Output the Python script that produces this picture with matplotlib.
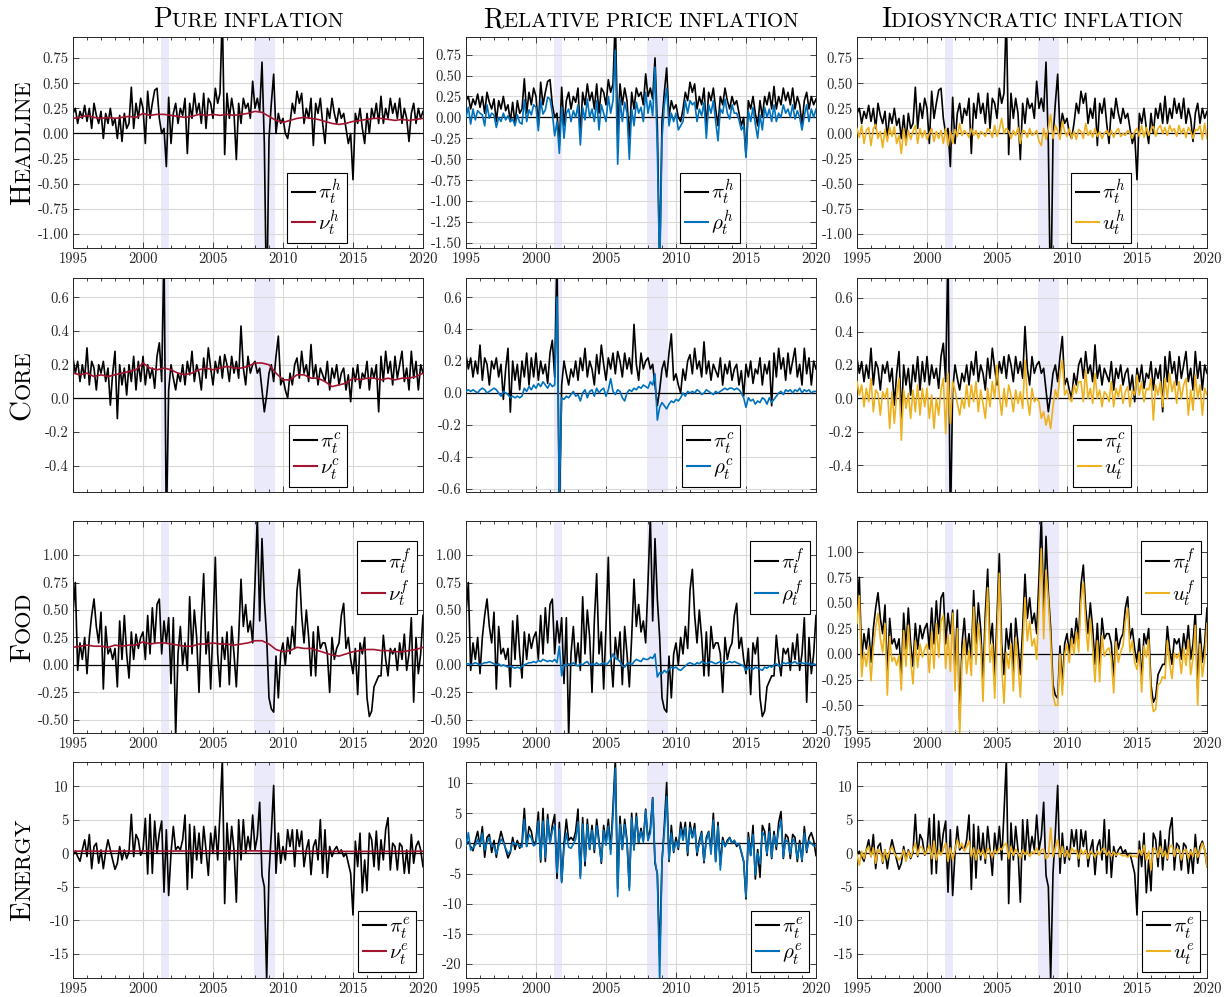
import numpy as np
import matplotlib
matplotlib.use('Agg')
import matplotlib.pyplot as plt

plt.rcParams.update({
    'font.family': 'cmr10',
    'mathtext.fontset': 'cm',
    'axes.unicode_minus': False,
    'axes.formatter.use_mathtext': True,
})

# ---- data (bimonthly 1995-2020) ----
pi_h = [
    0.20, 0.25, 0.10, 0.22, 0.15, 0.28,
    0.12, 0.25, 0.05, 0.30, 0.18, 0.10,
    0.22, -0.05, 0.20, 0.10, 0.25, 0.08,
    0.15, -0.05, 0.18, -0.08, 0.20, 0.05,
    0.10, 0.46, 0.05, 0.30, 0.15, 0.35,
    0.25, -0.10, 0.42, 0.15, 0.30, 0.43,
    0.45, 0.15, 0.00, 0.05, -0.33, 0.36,
    -0.10, 0.20, 0.30, 0.10, 0.25, 0.18,
    0.35, -0.20, 0.30, 0.15, 0.40, 0.20,
    0.30, 0.10, 0.40, 0.05, 0.35, 0.30,
    0.15, 0.45, 0.30, 0.40, 1.20, -0.21,
    0.40, 0.15, 0.35, 0.20, -0.26, 0.30,
    0.10, 0.35, 0.25, 0.30, 0.15, 0.52,
    0.25, 0.35, 0.22, 0.71, -0.10, -1.80,
    -0.05, 0.30, 0.59, 0.00, 0.20, 0.10,
    0.15, 0.00, -0.05, 0.10, 0.30, 0.20,
    0.42, 0.30, 0.40, 0.10, 0.25, 0.15,
    0.35, -0.12, 0.30, 0.20, 0.35, 0.10,
    -0.10, 0.25, 0.15, 0.35, 0.20, 0.10,
    0.25, 0.15, 0.20, 0.05, -0.10, 0.00,
    -0.46, 0.20, 0.10, 0.25, 0.05, -0.10,
    0.20, 0.00, 0.25, 0.15, 0.30, 0.10,
    0.37, 0.10, 0.25, 0.15, 0.35, 0.20,
    0.30, 0.15, 0.35, 0.10, 0.25, 0.15,
    -0.08, 0.20, 0.30, 0.10, 0.25, 0.15,
    0.22]
rho_h = [
    0.00, 0.12, -0.08, 0.10, -0.03, 0.08,
    0.05, 0.03, -0.10, 0.15, -0.01, 0.05,
    0.03, -0.12, 0.00, -0.05, 0.05, -0.03,
    0.02, -0.05, -0.02, -0.10, 0.03, -0.06,
    -0.08, 0.21, -0.05, 0.09, 0.03, 0.15,
    0.12, -0.16, 0.20, 0.04, 0.09, 0.24,
    0.22, 0.05, -0.22, -0.05, -0.43, 0.12,
    -0.25, 0.05, 0.10, -0.05, 0.08, 0.00,
    0.15, -0.33, 0.12, -0.03, 0.22, 0.00,
    0.10, -0.05, 0.20, -0.15, 0.15, 0.05,
    -0.05, 0.25, 0.05, 0.20, 0.80, -0.56,
    0.22, -0.05, 0.18, 0.05, -0.50, 0.10,
    -0.10, 0.18, 0.05, 0.12, -0.05, 0.30,
    0.05, 0.20, 0.02, 0.60, -0.37, -1.85,
    -0.25, 0.15, 0.35, -0.10, 0.05, -0.05,
    0.05, -0.15, -0.10, -0.05, 0.20, 0.05,
    0.20, 0.15, 0.18, -0.05, 0.10, 0.02,
    0.18, -0.25, 0.15, 0.05, 0.20, -0.05,
    -0.28, 0.10, 0.05, 0.22, 0.05, -0.02,
    0.15, 0.05, 0.05, -0.03, -0.15, -0.10,
    -0.48, 0.08, -0.05, 0.12, -0.08, -0.25,
    0.03, -0.15, 0.12, 0.00, 0.10, -0.05,
    0.15, -0.05, 0.05, 0.00, 0.15, 0.05,
    0.10, 0.00, 0.15, -0.02, 0.08, 0.00,
    -0.15, 0.02, 0.15, -0.05, 0.10, 0.00,
    0.10]
u_h = [
    0.05, -0.04, 0.08, -0.10, 0.03, 0.06,
    -0.12, 0.05, 0.09, -0.05, 0.02, -0.14,
    0.04, -0.08, 0.06, -0.03, 0.07, -0.10,
    -0.02, -0.20, 0.05, -0.12, 0.03, -0.06,
    0.02, 0.08, -0.10, 0.05, -0.04, 0.03,
    -0.06, 0.00, 0.05, -0.08, 0.02, -0.05,
    0.03, -0.10, 0.05, -0.12, 0.02, -0.10,
    0.04, -0.03, 0.10, -0.02, 0.03, 0.00,
    -0.04, 0.05, -0.02, 0.03, -0.05, 0.02,
    0.00, -0.03, 0.05, 0.02, -0.04, 0.08,
    -0.03, 0.04, 0.15, 0.00, 0.05, 0.02,
    -0.05, 0.03, -0.02, 0.06, -0.10, 0.03,
    0.02, -0.04, 0.05, -0.02, 0.00, 0.03,
    -0.08, -0.12, 0.05, -0.06, 0.05, 0.19,
    -0.05, 0.08, 0.03, -0.06, 0.12, 0.02,
    -0.03, 0.05, -0.05, 0.02, -0.06, 0.04,
    0.02, -0.05, 0.10, -0.02, 0.03, -0.04,
    0.05, -0.03, 0.02, -0.05, 0.00, 0.03,
    -0.02, 0.03, -0.04, 0.02, 0.05, -0.03,
    0.00, -0.02, 0.03, 0.00, -0.05, 0.02,
    0.05, -0.03, 0.08, -0.04, 0.06, -0.02,
    0.04, 0.07, -0.03, 0.05, 0.08, 0.00,
    0.06, -0.02, 0.08, 0.02, 0.05, -0.03,
    0.08, 0.00, 0.05, -0.04, 0.06, 0.02,
    -0.05, 0.04, 0.03, 0.08, -0.06, 0.10,
    -0.05]

pi_c = [
    0.24, 0.15, 0.22, 0.10, 0.20, 0.12,
    0.30, 0.08, 0.22, 0.18, 0.05, 0.20,
    0.15, 0.22, 0.10, 0.18, -0.04, 0.15,
    0.28, -0.12, 0.20, 0.08, 0.18, 0.02,
    0.20, 0.10, 0.25, 0.05, 0.22, 0.10,
    0.25, 0.08, 0.20, 0.12, 0.18, 0.06,
    0.25, 0.33, 0.10, 0.90, -0.80, 0.05,
    0.20, 0.12, 0.05, 0.15, 0.10, 0.20,
    0.08, 0.22, 0.14, 0.28, 0.10, 0.20,
    0.15, 0.05, 0.24, 0.12, 0.30, 0.18,
    0.08, 0.22, 0.15, 0.25, 0.12, 0.26,
    0.20, 0.10, 0.25, 0.15, 0.22, 0.12,
    0.43, 0.18, 0.08, 0.25, 0.15, 0.20,
    0.22, 0.15, 0.18, 0.05, -0.08, 0.02,
    0.15, 0.20, 0.10, 0.25, 0.37, 0.08,
    0.12, 0.05, 0.00, 0.15, 0.08, 0.20,
    0.24, 0.12, 0.28, 0.15, 0.20, 0.10,
    0.32, 0.12, 0.20, 0.08, 0.18, 0.14,
    0.10, 0.22, 0.05, 0.18, 0.12, 0.20,
    0.08, 0.15, 0.18, 0.05, 0.14, -0.02,
    0.18, 0.10, 0.20, 0.06, 0.15, 0.12,
    0.22, 0.05, 0.18, 0.12, 0.20, -0.08,
    0.25, 0.10, 0.28, 0.15, 0.22, 0.08,
    0.25, 0.12, 0.20, 0.28, 0.10, 0.18,
    0.05, 0.28, 0.12, 0.22, 0.05, 0.20,
    0.15]
rho_c = [
    0.01, 0.02, 0.01, 0.02, 0.01, 0.00,
    0.02, 0.03, 0.02, 0.00, 0.01, 0.02,
    0.03, 0.02, 0.00, -0.02, 0.01, 0.00,
    -0.01, -0.03, -0.02, -0.03, -0.02, -0.03,
    -0.02, 0.03, 0.01, 0.04, 0.02, 0.05,
    0.03, 0.06, 0.04, 0.07, 0.05, 0.03,
    0.06, 0.04, 0.05, 0.60, -0.65, -0.03,
    -0.04, -0.02, -0.03, -0.01, 0.01, -0.02,
    -0.01, -0.05, 0.00, 0.02, -0.03, 0.01,
    0.02, -0.02, 0.03, 0.00, 0.02, 0.03,
    -0.02, 0.02, 0.09, 0.01, -0.01, 0.02,
    0.01, -0.03, -0.05, 0.00, 0.02, 0.01,
    0.03, 0.02, 0.04, 0.03, 0.05, 0.04,
    0.03, 0.07, 0.05, 0.12, -0.17, -0.09,
    -0.06, -0.08, -0.10, -0.07, -0.05, -0.06,
    -0.04, -0.05, -0.03, 0.00, -0.02, 0.01,
    0.00, 0.01, 0.00, 0.02, 0.01, -0.01,
    0.00, 0.02, 0.01, 0.00, -0.01, 0.01,
    0.00, 0.01, 0.02, 0.03, 0.02, 0.03,
    0.03, 0.02, 0.03, 0.02, 0.00, -0.03,
    -0.09, -0.03, -0.05, -0.04, -0.07, -0.05,
    -0.06, -0.03, -0.04, -0.07, -0.03, -0.06,
    -0.04, -0.02, 0.00, 0.01, -0.01, 0.02,
    0.01, 0.02, 0.00, 0.02, 0.01, 0.03,
    0.00, 0.02, 0.01, 0.02, 0.00, 0.01,
    0.01]
u_c = [
    0.10, 0.02, 0.08, -0.05, 0.06, -0.02,
    0.12, -0.08, 0.05, 0.03, -0.10, 0.04,
    0.00, 0.06, -0.18, 0.04, -0.15, 0.02,
    0.12, -0.25, 0.05, -0.06, 0.03, -0.12,
    0.05, -0.08, 0.08, -0.10, 0.06, -0.05,
    0.06, -0.12, 0.02, -0.18, 0.00, -0.10,
    0.05, 0.12, -0.21, 0.15, -0.15, 0.10,
    0.05, -0.03, -0.10, 0.00, -0.06, 0.08,
    -0.05, 0.08, -0.02, 0.10, -0.08, 0.05,
    -0.03, -0.12, 0.06, -0.05, 0.10, 0.00,
    0.20, 0.02, -0.10, 0.06, -0.05, 0.08,
    0.02, -0.08, 0.05, -0.03, 0.04, -0.06,
    0.23, 0.00, -0.10, 0.06, -0.02, 0.00,
    -0.02, -0.12, -0.08, -0.16, -0.10, -0.18,
    -0.05, 0.05, 0.00, 0.15, 0.23, 0.02,
    0.05, 0.00, -0.02, 0.08, 0.03, 0.10,
    0.10, -0.02, 0.17, 0.00, 0.06, -0.03,
    0.15, 0.00, 0.05, -0.05, 0.04, 0.02,
    -0.02, 0.10, -0.05, 0.06, 0.01, 0.08,
    -0.03, 0.04, 0.07, -0.05, 0.05, 0.02,
    0.14, 0.02, 0.10, -0.02, 0.06, 0.05,
    0.12, -0.13, 0.08, 0.02, 0.10, -0.05,
    0.12, 0.00, 0.15, 0.04, 0.10, -0.03,
    0.10, 0.00, 0.08, 0.12, -0.10, 0.05,
    -0.07, 0.14, 0.00, 0.08, -0.10, 0.06,
    0.02]

pi_f = [
    0.47, 0.75, -0.05, 0.20, 0.05, 0.25,
    -0.08, 0.25, 0.45, 0.60, 0.35, 0.20,
    0.48, -0.22, 0.35, 0.10, 0.15, 0.05,
    0.15, -0.20, 0.40, 0.05, 0.45, 0.10,
    -0.12, 0.30, 0.05, 0.28, 0.15, 0.25,
    0.30, 0.05, 0.45, 0.10, 0.52, 0.20,
    0.55, 0.60, 0.10, 0.40, 0.20, 0.43,
    -0.17, 0.43, -0.65, 0.10, 0.35, 0.00,
    0.20, -0.05, 0.62, 0.10, 0.50, 0.25,
    -0.25, 0.40, 0.83, 0.10, 0.30, -0.22,
    0.35, 0.98, 0.10, -0.20, 0.25, 0.05,
    0.30, -0.18, 0.35, 0.10, -0.20, 0.25,
    0.78, 0.35, 0.55, 0.30, 0.40, 0.20,
    0.75, 1.35, 0.40, 1.15, 0.60, 0.25,
    -0.30, -0.40, -0.43, 0.08, -0.30, 0.10,
    0.20, 0.00, 0.25, 0.10, 0.35, 0.15,
    0.68, 0.87, 0.45, 0.20, 0.50, 0.25,
    -0.10, 0.30, -0.10, 0.35, 0.15, 0.20,
    0.20, 0.10, -0.25, 0.25, 0.05, 0.15,
    0.20, 0.45, 0.56, 0.15, 0.25, 0.05,
    -0.08, 0.15, -0.27, 0.20, 0.10, 0.25,
    -0.30, -0.47, -0.42, -0.20, -0.15, -0.10,
    -0.10, 0.27, 0.05, -0.10, 0.15, 0.10,
    0.15, -0.05, 0.20, 0.05, 0.28, -0.05,
    0.10, 0.43, -0.34, 0.25, -0.08, 0.10,
    0.45]
rho_f = [
    0.01, 0.01, 0.00, 0.01, 0.02, 0.01,
    0.00, 0.01, 0.02, 0.02, 0.03, 0.02,
    0.01, 0.00, 0.01, -0.01, 0.00, -0.01,
    -0.02, -0.01, -0.02, -0.03, -0.02, -0.03,
    -0.01, 0.00, 0.01, 0.02, 0.02, 0.03,
    0.02, 0.04, 0.03, 0.05, 0.04, 0.03,
    0.04, 0.03, 0.05, 0.02, 0.17, -0.10,
    0.00, -0.01, 0.01, 0.00, 0.02, 0.00,
    -0.01, 0.01, 0.00, 0.02, 0.03, 0.00,
    0.01, 0.00, 0.02, 0.00, 0.01, 0.02,
    0.00, 0.02, 0.05, 0.10, 0.06, 0.05,
    0.03, -0.01, -0.02, 0.01, 0.02, 0.00,
    0.03, 0.05, 0.04, 0.03, 0.06, 0.05,
    0.05, 0.07, 0.06, 0.10, -0.11, -0.07,
    -0.08, -0.05, -0.07, -0.04, -0.02, -0.03,
    -0.02, -0.04, -0.05, -0.03, -0.01, 0.01,
    0.02, 0.01, 0.00, 0.02, 0.01, 0.03,
    0.02, 0.01, 0.02, 0.03, 0.02, 0.01,
    0.02, 0.03, 0.02, 0.01, 0.02, 0.03,
    0.02, 0.03, 0.02, 0.01, 0.00, -0.01,
    -0.05, -0.02, -0.03, -0.04, -0.02, -0.03,
    -0.04, -0.05, -0.02, -0.03, -0.01, -0.02,
    0.00, 0.01, -0.01, 0.00, 0.02, 0.01,
    0.02, 0.01, 0.02, 0.03, 0.01, 0.02,
    0.02, 0.01, 0.02, 0.01, 0.00, 0.01,
    0.00]
u_f = [
    0.30, 0.57, -0.22, 0.02, -0.12, 0.08,
    -0.26, 0.07, 0.26, 0.40, 0.15, 0.02,
    0.30, -0.40, 0.17, -0.07, -0.03, -0.11,
    -0.01, -0.35, 0.23, -0.12, 0.28, -0.06,
    -0.29, 0.13, -0.13, 0.10, -0.03, 0.05,
    0.10, -0.18, 0.22, -0.14, 0.30, -0.03,
    0.32, 0.38, -0.14, 0.19, -0.17, 0.40,
    -0.36, 0.25, -0.80, -0.08, 0.15, -0.19,
    0.04, -0.21, 0.46, -0.10, 0.30, 0.08,
    -0.46, 0.22, 0.65, -0.08, 0.10, -0.43,
    0.18, 0.79, -0.12, -0.48, 0.02, -0.14,
    0.10, -0.36, 0.16, -0.09, -0.42, 0.05,
    0.55, 0.13, 0.32, 0.08, 0.15, -0.05,
    0.48, 1.03, 0.15, 0.82, 0.53, 0.13,
    -0.40, -0.50, -0.50, 0.00, -0.40, 0.00,
    0.10, -0.08, 0.15, 0.00, 0.22, 0.02,
    0.52, 0.70, 0.30, 0.03, 0.35, 0.06,
    -0.27, 0.13, -0.27, 0.18, -0.02, 0.04,
    0.06, -0.04, -0.38, 0.12, -0.08, 0.02,
    0.08, 0.32, 0.45, 0.02, 0.13, -0.08,
    -0.15, 0.02, -0.37, 0.08, -0.03, 0.14,
    -0.40, -0.56, -0.54, -0.30, -0.28, -0.22,
    -0.24, 0.13, -0.09, -0.24, 0.01, -0.04,
    0.01, -0.19, 0.06, -0.11, 0.14, -0.20,
    -0.04, 0.28, -0.50, 0.10, -0.22, -0.04,
    0.30]

pi_e = [
    -0.3, 0.3, -0.5, -1.2, 0.5, 2.0,
    -0.5, 2.8, -2.3, 1.0, 1.5, -1.5,
    0.5, -2.3, 0.2, 2.0, 0.5, -1.0,
    -2.4, -1.5, 1.0, -1.0, 0.5, -0.8,
    0.2, 5.8, -0.5, 2.8, 2.0, -0.3,
    0.5, 5.2, -3.1, 5.8, -3.0, 4.8,
    0.0, 3.0, 4.8, -5.8, 3.5, -6.3,
    0.0, 4.0, 0.5, 1.0, 0.5, 2.0,
    5.7, -5.4, 4.3, -3.7, 4.0, -1.0,
    3.0, -1.5, 4.0, 0.5, -3.3, 3.0,
    0.0, 4.0, -1.0, 6.0, 14.0, -7.5,
    4.5, -1.0, 4.0, 0.5, -7.3, 5.0,
    -1.0, 5.0, 0.0, 2.5, 0.5, 5.7,
    0.5, 2.5, 7.6, -3.3, -5.0, -18.8,
    -3.0, 3.0, 10.1, -3.0, 3.0, -1.5,
    1.0, -1.0, 3.5, 1.0, 3.5, -2.0,
    3.5, 1.0, 3.3, -2.0, 0.5, 2.0,
    -3.2, 1.0, 2.0, -1.0, 5.0, -3.0,
    3.5, -3.6, 1.0, -0.5, 0.5, 1.0,
    0.0, 0.5, -0.5, 0.0, -1.5, -3.0,
    -9.2, 1.8, -2.0, 3.0, -5.9, -1.0,
    -5.6, 3.0, 2.0, -2.0, 3.3, -2.5,
    2.0, -1.0, 3.5, 5.3, -2.5, 1.5,
    1.0, -2.5, 1.5, 1.0, -3.0, 0.5,
    -3.0, 2.8, -1.5, 1.0, 1.8, 0.5,
    -2.0]
rho_e = [
    -0.4, 1.8, -1.1, -0.7, -0.3, 0.7,
    -0.3, 1.7, -1.1, 0.1, 1.0, -0.5,
    -0.3, -1.8, -0.4, 0.7, 0.2, -0.8,
    -1.7, -1.3, 0.2, -0.1, -0.1, -0.5,
    -0.6, 4.0, -0.5, 1.5, 0.9, -0.4,
    -0.1, 3.7, -2.6, 3.7, -2.3, 4.0,
    0.0, 2.1, 3.0, -4.9, 2.4, -6.5,
    -0.8, 1.7, -0.6, -0.8, -0.1, 0.7,
    3.6, -5.8, 3.2, -3.0, 3.1, -1.0,
    2.2, -1.0, 2.9, 0.0, -3.0, 2.2,
    -0.3, 2.9, -1.8, 4.5, 12.5, -8.8,
    3.2, -1.0, 3.1, 0.2, -7.8, 4.2,
    -1.1, 4.4, 0.2, 2.0, 0.2, 5.5,
    0.5, 1.7, 7.5, -2.8, -5.2, -22.9,
    -2.8, 1.9, 7.8, -2.7, 1.7, -1.3,
    0.3, -0.7, 2.4, 0.5, 2.7, -1.5,
    2.6, 0.9, 2.5, -1.5, -0.1, 1.7,
    -2.9, 0.4, 1.9, -1.8, 3.9, -3.0,
    2.9, -4.4, 0.5, -0.5, 0.2, 0.9,
    0.1, 0.5, -0.2, -0.1, -1.3, -2.9,
    -8.9, 1.0, -2.0, 1.5, -5.2, -1.6,
    -3.4, 1.9, 1.2, -1.7, 2.0, -2.3,
    1.4, -0.5, 2.2, 3.8, -2.3, 0.6,
    0.2, -1.8, 0.8, 0.1, -2.5, -0.1,
    -2.8, 1.7, -1.2, 0.4, 0.0, -0.4,
    -0.3]
u_e = [
    -0.2, -1.8, 0.3, -0.8, 0.5, 1.0,
    -0.5, 0.8, -1.5, 0.6, 0.2, -1.3,
    0.5, -0.8, 0.3, 1.0, 0.0, -0.5,
    -1.0, -0.5, 0.5, -1.2, 0.3, -0.6,
    0.5, 1.5, -0.3, 1.0, 0.8, -0.2,
    0.3, 1.2, -0.8, 1.8, -1.0, 0.5,
    -0.3, 0.6, 1.5, -1.2, 0.8, -1.0,
    0.5, 2.0, 0.8, 1.5, 0.3, 1.0,
    1.8, -0.5, 0.8, -1.0, 0.6, -0.3,
    0.5, -0.8, 0.8, 0.2, -0.6, 0.5,
    0.0, 0.8, 0.5, 1.2, 1.5, -0.8,
    1.0, -0.3, 0.6, 0.0, -0.8, 0.5,
    -0.2, 0.3, -0.5, 0.2, 0.0, 0.8,
    -0.3, 0.5, 0.6, -0.8, -0.5, 3.8,
    -0.5, 0.8, 2.0, -0.6, 1.0, -0.5,
    0.4, -0.6, 0.8, 0.2, 0.5, -0.8,
    0.6, -0.2, 0.5, -0.8, 0.3, 0.0,
    -0.6, 0.3, -0.2, 0.5, 0.8, -0.3,
    0.3, -0.5, 0.2, -0.3, 0.0, -0.2,
    -0.4, -0.3, -0.6, -0.2, -0.5, -0.4,
    -0.6, 0.5, -0.3, 1.2, -1.0, 0.3,
    -2.5, 0.8, 0.5, -0.6, 1.0, -0.5,
    0.3, -0.8, 1.0, 1.2, -0.5, 0.6,
    0.5, -1.0, 0.4, 0.6, -0.8, 0.3,
    -0.5, 0.8, -0.6, 0.3, 1.5, 0.6,
    -2.0]

# pure inflation components (semiannual 1995-2020)
nu_h = [0.15, 0.16, 0.18, 0.16, 0.15, 0.16, 0.15, 0.16, 0.17, 0.16,
        0.20, 0.18, 0.19, 0.19, 0.18, 0.17, 0.16, 0.17, 0.19, 0.18,
        0.19, 0.18, 0.19, 0.18, 0.19, 0.20, 0.22, 0.21, 0.17, 0.13,
        0.11, 0.13, 0.15, 0.16, 0.15, 0.14, 0.12, 0.10, 0.09, 0.10,
        0.12, 0.13, 0.14, 0.15, 0.15, 0.14, 0.13, 0.14, 0.13, 0.14, 0.15]
nu_c = [0.15, 0.14, 0.15, 0.13, 0.14, 0.13, 0.14, 0.15, 0.16, 0.17,
        0.21, 0.18, 0.17, 0.18, 0.17, 0.15, 0.14, 0.15, 0.17, 0.18,
        0.17, 0.18, 0.19, 0.18, 0.18, 0.19, 0.21, 0.21, 0.20, 0.15,
        0.11, 0.11, 0.14, 0.14, 0.12, 0.12, 0.10, 0.07, 0.08, 0.09,
        0.12, 0.11, 0.12, 0.12, 0.11, 0.12, 0.11, 0.12, 0.12, 0.13, 0.15]
nu_f = [0.16, 0.17, 0.18, 0.17, 0.17, 0.16, 0.18, 0.17, 0.18, 0.18,
        0.21, 0.19, 0.20, 0.20, 0.19, 0.18, 0.17, 0.17, 0.19, 0.19,
        0.20, 0.19, 0.19, 0.18, 0.19, 0.20, 0.22, 0.22, 0.19, 0.14,
        0.12, 0.13, 0.16, 0.15, 0.15, 0.13, 0.11, 0.09, 0.08, 0.10,
        0.12, 0.13, 0.14, 0.14, 0.13, 0.13, 0.12, 0.12, 0.13, 0.14, 0.16]
nu_e = [0.30, 0.31, 0.32, 0.31, 0.30, 0.31, 0.32, 0.33, 0.32, 0.33,
        0.34, 0.33, 0.34, 0.33, 0.32, 0.33, 0.34, 0.33, 0.34, 0.35,
        0.34, 0.35, 0.36, 0.35, 0.34, 0.35, 0.36, 0.34, 0.32, 0.30,
        0.30, 0.31, 0.32, 0.31, 0.30, 0.30, 0.29, 0.28, 0.28, 0.28,
        0.27, 0.27, 0.28, 0.28, 0.29, 0.28, 0.28, 0.29, 0.28, 0.29, 0.30]

t_bi = 1995 + np.arange(len(pi_h)) / 6
t_semi = 1995 + np.arange(len(nu_h)) / 2

recessions = [(2001.25, 2001.87), (2007.92, 2009.42)]

col_titles = ['Pure inflation', 'Relative price inflation', 'Idiosyncratic inflation']
row_titles = ['Headline', 'Core', 'Food', 'Energy']
sup = ['h', 'c', 'f', 'e']
comp_sym = [r'\nu', r'\rho', 'u']
comp_col = ['#a2142f', '#0072bd', '#edb120']

pis = [pi_h, pi_c, pi_f, pi_e]
comps = [[nu_h, rho_h, u_h], [nu_c, rho_c, u_c], [nu_f, rho_f, u_f], [nu_e, rho_e, u_e]]

ylims = [[(-1.14, 0.96), (-1.56, 0.96), (-1.14, 0.96)],
         [(-0.556, 0.715), (-0.62, 0.72), (-0.56, 0.72)],
         [(-0.62, 1.31), (-0.62, 1.31), (-0.77, 1.30)],
         [(-18.6, 13.6), (-22.3, 13.5), (-18.6, 13.6)]]
yticks = [[np.arange(-1.0, 0.76, 0.25), np.arange(-1.5, 0.76, 0.25), np.arange(-1.0, 0.76, 0.25)],
          [np.arange(-0.4, 0.61, 0.2), np.arange(-0.6, 0.61, 0.2), np.arange(-0.4, 0.61, 0.2)],
          [np.arange(-0.5, 1.01, 0.25), np.arange(-0.5, 1.01, 0.25), np.arange(-0.75, 1.01, 0.25)],
          [np.arange(-15, 11, 5), np.arange(-20, 11, 5), np.arange(-15, 11, 5)]]
yfmt = ['%.2f', '%.1f', '%.2f', '%.0f']
leg_pos = [('lower right', (0.783, 0.024)), ('lower right', (0.783, 0.024)),
           ('upper right', (0.983, 0.906)), ('lower right', (0.98, 0.028))]

W, H = 1225, 997
fig = plt.figure(figsize=(W / 100, H / 100), dpi=100)

col_x = [73, 466, 857]
ax_w = 350
row_y = [(37, 248), (278, 492), (521, 733), (762, 978)]

for i in range(4):
    for j in range(3):
        top, bot = row_y[i]
        ax = fig.add_axes([col_x[j] / W, 1 - bot / H, ax_w / W, (bot - top) / H])
        for a, b in recessions:
            ax.axvspan(a, b, color='#eaeafb', lw=0, zorder=0.1)
        ax.set_axisbelow(True)
        ax.grid(True, color='#d9d9d9', lw=0.8)
        ax.axhline(0, color='k', lw=0.9, zorder=1)
        l1, = ax.plot(t_bi, pis[i], color='k', lw=1.2, zorder=2)
        tc = t_semi if j == 0 else t_bi
        l2, = ax.plot(tc, comps[i][j], color=comp_col[j], lw=1.2, zorder=3)
        ax.set_xlim(1995, 2020)
        ax.set_ylim(*ylims[i][j])
        ax.set_xticks(np.arange(1995, 2021, 5))
        ax.set_xticks(np.arange(1995, 2021, 1), minor=True)
        if i == 1:
            ax.set_xticklabels([])
        else:
            ax.set_xticklabels([str(y) for y in range(1995, 2021, 5)])
        tk = yticks[i][j]
        ax.set_yticks(tk)
        ax.set_yticklabels([yfmt[i] % v if abs(v) > 1e-9 else yfmt[i] % 0 for v in tk])
        ax.tick_params(which='both', direction='in', top=True, right=True,
                       labelsize=10.5, colors='#262626', width=0.6, pad=3)
        ax.tick_params(which='major', length=4)
        ax.tick_params(which='minor', length=2.5)
        for s in ax.spines.values():
            s.set_color('#262626')
            s.set_linewidth(0.7)
        loc, anc = leg_pos[i]
        leg = ax.legend([l1, l2],
                        [r'$\pi_t^{%s}$' % sup[i], r'$%s_t^{%s}$' % (comp_sym[j], sup[i])],
                        loc=loc, bbox_to_anchor=anc, fontsize=15, handlelength=1.1,
                        handletextpad=0.15, borderpad=0.25, labelspacing=0.05,
                        borderaxespad=0, fancybox=False, framealpha=1, edgecolor='k')
        leg.get_frame().set_linewidth(0.8)
        for h in leg.get_lines():
            h.set_linewidth(1.5)


def smallcaps(word, xc, yc, big=20, small=15, vertical=False):
    r = fig.canvas.get_renderer()
    kw = dict(ha='left', va='baseline', rotation=90 if vertical else 0,
              rotation_mode='anchor', color='k')
    t1 = fig.text(0, 0, word[0], fontsize=big, **kw)
    t2 = fig.text(0, 0, word[1:].upper(), fontsize=small, **kw)
    e1 = t1.get_window_extent(r)
    e2 = t2.get_window_extent(r)
    if vertical:
        L1, L2 = e1.height, e2.height
        y0 = (H - yc) - (L1 + L2) / 2
        t1.set_position((xc / W, y0 / H))
        t2.set_position((xc / W, (y0 + L1) / H))
    else:
        L1, L2 = e1.width, e2.width
        x0 = xc - (L1 + L2) / 2
        t1.set_position((x0 / W, 1 - yc / H))
        t2.set_position(((x0 + L1) / W, 1 - yc / H))


for j, name in enumerate(col_titles):
    smallcaps(name, col_x[j] + ax_w / 2, 27)
for i, name in enumerate(row_titles):
    top, bot = row_y[i]
    smallcaps(name, 30, (top + bot) / 2, big=21, small=16, vertical=True)

fig.savefig('out.png', dpi=100)
